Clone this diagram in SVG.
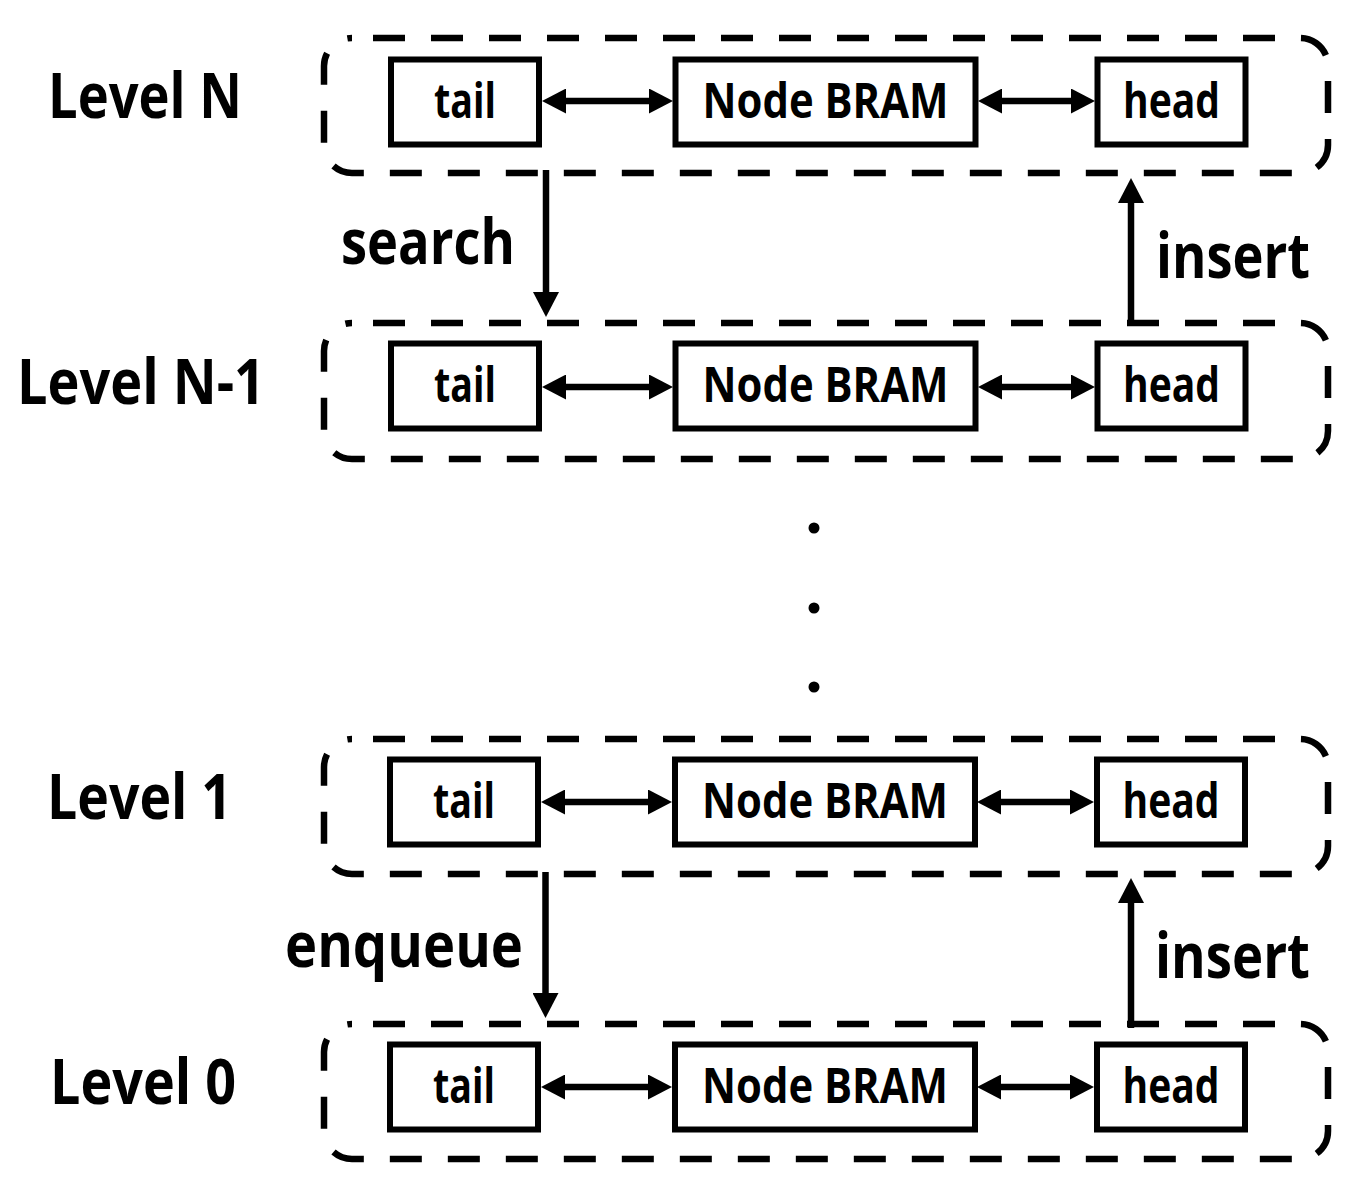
<svg xmlns="http://www.w3.org/2000/svg" width="1364" height="1193" viewBox="0 0 1364 1193">
<style>
.grp{fill:none;stroke:#000;stroke-width:6.5;stroke-dasharray:32 26;stroke-dashoffset:37}
.box{fill:#fff;stroke:#000;stroke-width:6}
.bt{font-family:"Open Sans","Liberation Sans",sans-serif;font-weight:700;font-size:48px;fill:#000;text-anchor:middle}
.lbl{font-family:"Open Sans","Liberation Sans",sans-serif;font-weight:700;font-size:62px;fill:#000}
.con{stroke:#000;stroke-width:6.5;fill:none}
.dot{fill:#000}
</style>
<defs>
<marker id="ah" viewBox="0 0 24 25" markerUnits="userSpaceOnUse" markerWidth="24" markerHeight="25" refX="2" refY="12.5" orient="auto-start-reverse">
<path d="M0,0 L24,12.5 L0,25 Z" fill="#000"/>
</marker>
<marker id="av" viewBox="0 0 25 26" markerUnits="userSpaceOnUse" markerWidth="25" markerHeight="26" refX="2" refY="13" orient="auto">
<path d="M0,0 L25,13 L0,26 Z" fill="#000"/>
</marker>
</defs>

<g id="levelN">
<rect class="grp" x="324" y="38" width="1004" height="135" rx="28"/>
<text class="lbl" x="48" y="118" textLength="194" lengthAdjust="spacingAndGlyphs">Level N</text>
<g id="levelN-tail"><rect class="box" x="391" y="59.5" width="148" height="85"/><text class="bt" x="465" y="118" textLength="62" lengthAdjust="spacingAndGlyphs">tail</text></g>
<g id="levelN-bram"><rect class="box" x="675.5" y="59.5" width="300" height="85"/><text class="bt" x="825.5" y="118" textLength="246" lengthAdjust="spacingAndGlyphs">Node BRAM</text></g>
<g id="levelN-head"><rect class="box" x="1097.5" y="59.5" width="148" height="85"/><text class="bt" x="1171.5" y="118" textLength="97" lengthAdjust="spacingAndGlyphs">head</text></g>
</g>

<g id="levelN-1">
<rect class="grp" x="324" y="323" width="1004" height="136" rx="28"/>
<text class="lbl" x="17" y="404" textLength="248" lengthAdjust="spacingAndGlyphs">Level N-1</text>
<g id="levelN-1-tail"><rect class="box" x="391" y="343.5" width="148" height="85"/><text class="bt" x="465" y="402" textLength="62" lengthAdjust="spacingAndGlyphs">tail</text></g>
<g id="levelN-1-bram"><rect class="box" x="675.5" y="343.5" width="300" height="85"/><text class="bt" x="825.5" y="402" textLength="246" lengthAdjust="spacingAndGlyphs">Node BRAM</text></g>
<g id="levelN-1-head"><rect class="box" x="1097.5" y="343.5" width="148" height="85"/><text class="bt" x="1171.5" y="402" textLength="97" lengthAdjust="spacingAndGlyphs">head</text></g>
</g>

<g id="level1">
<rect class="grp" x="324" y="739" width="1004" height="135" rx="28"/>
<text class="lbl" x="47" y="819" textLength="185" lengthAdjust="spacingAndGlyphs">Level 1</text>
<g id="level1-tail"><rect class="box" x="390" y="759.5" width="148" height="85"/><text class="bt" x="464" y="818" textLength="62" lengthAdjust="spacingAndGlyphs">tail</text></g>
<g id="level1-bram"><rect class="box" x="675" y="759.5" width="300" height="85"/><text class="bt" x="825" y="818" textLength="246" lengthAdjust="spacingAndGlyphs">Node BRAM</text></g>
<g id="level1-head"><rect class="box" x="1097" y="759.5" width="148" height="85"/><text class="bt" x="1171" y="818" textLength="97" lengthAdjust="spacingAndGlyphs">head</text></g>
</g>

<g id="level0">
<rect class="grp" x="324" y="1024" width="1004" height="135" rx="28"/>
<text class="lbl" x="50" y="1104" textLength="186" lengthAdjust="spacingAndGlyphs">Level 0</text>
<g id="level0-tail"><rect class="box" x="390" y="1044.5" width="148" height="85"/><text class="bt" x="464" y="1103" textLength="62" lengthAdjust="spacingAndGlyphs">tail</text></g>
<g id="level0-bram"><rect class="box" x="675" y="1044.5" width="300" height="85"/><text class="bt" x="825" y="1103" textLength="246" lengthAdjust="spacingAndGlyphs">Node BRAM</text></g>
<g id="level0-head"><rect class="box" x="1097" y="1044.5" width="148" height="85"/><text class="bt" x="1171" y="1103" textLength="97" lengthAdjust="spacingAndGlyphs">head</text></g>
</g>

<g id="ellipsis">
<circle class="dot" cx="814" cy="528" r="5.5"/>
<circle class="dot" cx="814" cy="608" r="5.5"/>
<circle class="dot" cx="814" cy="687" r="5.5"/>
</g>

<g id="connectors">
<line class="con" x1="564" y1="101" x2="651" y2="101" marker-start="url(#ah)" marker-end="url(#ah)"/>
<line class="con" x1="1000" y1="101" x2="1073" y2="101" marker-start="url(#ah)" marker-end="url(#ah)"/>
<line class="con" x1="564" y1="387" x2="651" y2="387" marker-start="url(#ah)" marker-end="url(#ah)"/>
<line class="con" x1="1000" y1="387" x2="1073" y2="387" marker-start="url(#ah)" marker-end="url(#ah)"/>
<line class="con" x1="563" y1="802" x2="650" y2="802" marker-start="url(#ah)" marker-end="url(#ah)"/>
<line class="con" x1="999" y1="802" x2="1072" y2="802" marker-start="url(#ah)" marker-end="url(#ah)"/>
<line class="con" x1="563" y1="1087" x2="650" y2="1087" marker-start="url(#ah)" marker-end="url(#ah)"/>
<line class="con" x1="999" y1="1087" x2="1072" y2="1087" marker-start="url(#ah)" marker-end="url(#ah)"/>

<line class="con" x1="546" y1="170" x2="546" y2="294" marker-end="url(#av)"/>
<line class="con" x1="1131" y1="326" x2="1131" y2="201" marker-end="url(#av)"/>
<line class="con" x1="545.5" y1="872" x2="545.5" y2="995" marker-end="url(#av)"/>
<line class="con" x1="1131" y1="1028" x2="1131" y2="901" marker-end="url(#av)"/>

<text class="lbl" x="341" y="264" textLength="174" lengthAdjust="spacingAndGlyphs">search</text>
<text class="lbl" x="1156" y="278" textLength="154" lengthAdjust="spacingAndGlyphs">insert</text>
<text class="lbl" x="285" y="967" textLength="238" lengthAdjust="spacingAndGlyphs">enqueue</text>
<text class="lbl" x="1155" y="978" textLength="155" lengthAdjust="spacingAndGlyphs">insert</text>
</g>
</svg>
